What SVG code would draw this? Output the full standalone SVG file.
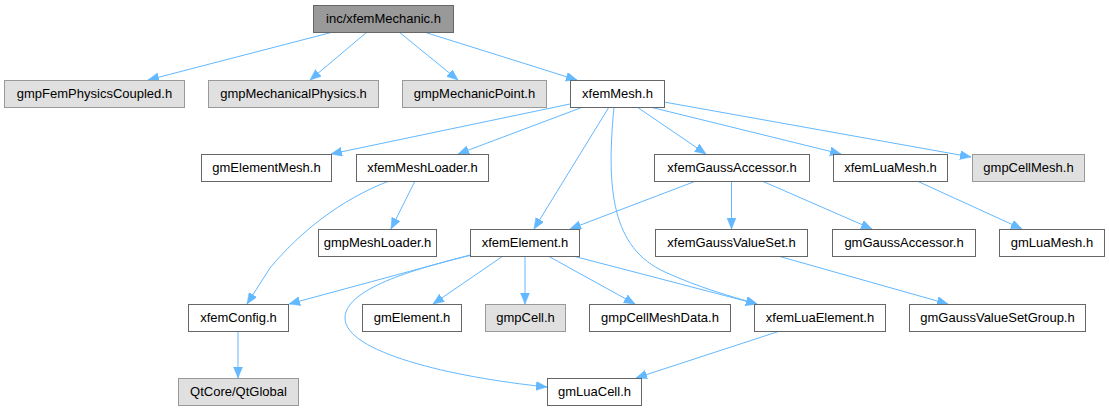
<svg xmlns="http://www.w3.org/2000/svg" width="1109" height="411" viewBox="0 0 1109 411">
<style>
.n rect{fill:#ffffff;stroke:#666666;stroke-width:1}
.g rect{fill:#e0e0e0;stroke:#999999;stroke-width:1}
.r rect{fill:#999999;stroke:#666666;stroke-width:1}
text{font-family:"Liberation Sans",Arial,sans-serif;font-size:13px;fill:#000000;text-anchor:middle}
.e path{fill:none;stroke:#63b8ff;stroke-width:1;marker-end:url(#ah)}
</style>
<defs>
<marker id="ah" markerUnits="userSpaceOnUse" markerWidth="13" markerHeight="10" refX="11" refY="4.5" orient="auto">
<path d="M0,0 L11,4.5 L0,9 z" fill="#63b8ff" stroke="#63b8ff" stroke-width="0.5"/>
</marker>
</defs>
<rect x="0" y="0" width="1109" height="411" fill="#ffffff"/>
<g class="e" id="edges">
<path d="M333,32 L148,80"/>
<path d="M367,32 L310,80"/>
<path d="M399,32 L458,80"/>
<path d="M424,32 L577,80"/>
<path d="M570,104 L331,154"/>
<path d="M583,107 L458,154"/>
<path d="M609,107 L534,229"/>
<path d="M614,107 C606,190 612,248 665,272 C700,288 730,296 757,304"/>
<path d="M637,107 L706,154"/>
<path d="M650,107 L841,154"/>
<path d="M664,102 L971,157"/>
<path d="M415,181 L391,229"/>
<path d="M389,181 C340,200 300,232 270,268 L247,304"/>
<path d="M696,181 L570,229"/>
<path d="M731.5,181 L731.5,229"/>
<path d="M762,181 L872,229"/>
<path d="M917,181 L1022,229"/>
<path d="M778,256 L948,304"/>
<path d="M470,255 L289,304"/>
<path d="M503,256 L433,304"/>
<path d="M525,256 L525,304"/>
<path d="M548,256 L635,304"/>
<path d="M573,256 L757,304"/>
<path d="M472,255 C400,272 345,292 345,318 C345,352 450,377 547,387"/>
<path d="M780,331 L636,378"/>
<path d="M238,331 L238,378"/>
</g>
<g id="n_root" class="r"><rect x="313.5" y="5.5" width="140" height="27"/><text x="383.5" y="23">inc/xfemMechanic.h</text></g>
<g id="n_gmpFemPhysicsCoupled" class="g"><rect x="4.5" y="80.5" width="180" height="27"/><text x="94.5" y="98">gmpFemPhysicsCoupled.h</text></g>
<g id="n_gmpMechanicalPhysics" class="g"><rect x="208.5" y="80.5" width="170" height="27"/><text x="293.5" y="98">gmpMechanicalPhysics.h</text></g>
<g id="n_gmpMechanicPoint" class="g"><rect x="402.5" y="80.5" width="144" height="27"/><text x="474.5" y="98">gmpMechanicPoint.h</text></g>
<g id="n_xfemMesh" class="n"><rect x="570.5" y="80.5" width="94" height="27"/><text x="617.5" y="98">xfemMesh.h</text></g>
<g id="n_gmElementMesh" class="n"><rect x="201.5" y="154.5" width="130" height="27"/><text x="266.5" y="172">gmElementMesh.h</text></g>
<g id="n_xfemMeshLoader" class="n"><rect x="356.5" y="154.5" width="132" height="27"/><text x="422.5" y="172">xfemMeshLoader.h</text></g>
<g id="n_xfemGaussAccessor" class="n"><rect x="654.5" y="154.5" width="155" height="27"/><text x="732" y="172">xfemGaussAccessor.h</text></g>
<g id="n_xfemLuaMesh" class="n"><rect x="833.5" y="154.5" width="114" height="27"/><text x="890.5" y="172">xfemLuaMesh.h</text></g>
<g id="n_gmpCellMesh" class="g"><rect x="972.5" y="154.5" width="112" height="27"/><text x="1028.5" y="172">gmpCellMesh.h</text></g>
<g id="n_gmpMeshLoader" class="n"><rect x="318.5" y="229.5" width="118" height="27"/><text x="377.5" y="247">gmpMeshLoader.h</text></g>
<g id="n_xfemElement" class="n"><rect x="470.5" y="229.5" width="109" height="27"/><text x="525" y="247">xfemElement.h</text></g>
<g id="n_xfemGaussValueSet" class="n"><rect x="655.5" y="229.5" width="152" height="27"/><text x="731.5" y="247">xfemGaussValueSet.h</text></g>
<g id="n_gmGaussAccessor" class="n"><rect x="832.5" y="229.5" width="143" height="27"/><text x="904" y="247">gmGaussAccessor.h</text></g>
<g id="n_gmLuaMesh" class="n"><rect x="999.5" y="229.5" width="105" height="27"/><text x="1052" y="247">gmLuaMesh.h</text></g>
<g id="n_xfemConfig" class="n"><rect x="188.5" y="304.5" width="100" height="27"/><text x="238.5" y="322">xfemConfig.h</text></g>
<g id="n_gmElement" class="n"><rect x="362.5" y="304.5" width="99" height="27"/><text x="412" y="322">gmElement.h</text></g>
<g id="n_gmpCell" class="g"><rect x="485.5" y="304.5" width="80" height="27"/><text x="525.5" y="322">gmpCell.h</text></g>
<g id="n_gmpCellMeshData" class="n"><rect x="589.5" y="304.5" width="141" height="27"/><text x="660" y="322">gmpCellMeshData.h</text></g>
<g id="n_xfemLuaElement" class="n"><rect x="754.5" y="304.5" width="131" height="27"/><text x="820" y="322">xfemLuaElement.h</text></g>
<g id="n_gmGaussValueSetGroup" class="n"><rect x="909.5" y="304.5" width="176" height="27"/><text x="997.5" y="322">gmGaussValueSetGroup.h</text></g>
<g id="n_QtGlobal" class="g"><rect x="178.5" y="378.5" width="120" height="27"/><text x="238.5" y="396">QtCore/QtGlobal</text></g>
<g id="n_gmLuaCell" class="n"><rect x="547.5" y="378.5" width="94" height="27"/><text x="594.5" y="396">gmLuaCell.h</text></g>
</svg>
